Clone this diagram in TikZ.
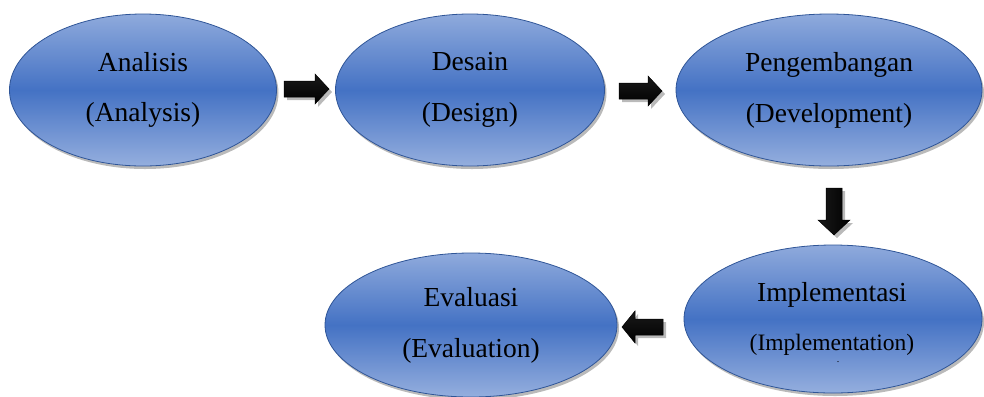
\documentclass[tikz,border=0pt]{standalone}
\usepackage{fontspec}
\setmainfont{Liberation Serif}
\usetikzlibrary{shapes.geometric,shadows}
\definecolor{elltop}{HTML}{8FAADC}
\definecolor{ellmid}{HTML}{4472C4}
\definecolor{ellrim}{HTML}{2F5597}
\tikzset{
  phase/.style={ellipse, inner sep=0pt, draw=ellrim, line width=0.8bp,
    top color=elltop, bottom color=elltop!95!white, middle color=ellmid,
    drop shadow={shadow xshift=2bp, shadow yshift=-3bp, opacity=0.45, fill=black!60},
    align=center, font=\fontsize{27.6}{51}\selectfont},
  blk/.style={draw=black, line width=0.5bp,
    drop shadow={shadow xshift=3bp, shadow yshift=-3bp, opacity=0.45, fill=black!60}},
  blkh/.style={blk, top color=black!90, middle color=black!50, bottom color=black},
  blkv/.style={blk, left color=black!90, middle color=black!50, right color=black}
}
\begin{document}
\begin{tikzpicture}[x=1bp,y=-1bp]
\useasboundingbox (0,0) rectangle (984,396);
\node[phase, minimum width=267bp, minimum height=152bp] (ana) at (143,90) {Analisis\\(Analysis)};
\node[phase, minimum width=269bp, minimum height=152bp] (des) at (470,90) {Desain\\(Design)};
\node[phase, minimum width=306bp, minimum height=152bp] (dev) at (829,90) {Pengembangan\\(Development)};
\node[phase, minimum width=298bp, minimum height=148bp, font=\fontsize{27.6}{48}\selectfont] (imp) at (833,319) {};
\node[font=\fontsize{27.6}{30}\selectfont] (impa) at (832,295) {Implementasi};
\node[font=\fontsize{23.6}{26}\selectfont] (impb) at (832,345) {(Implementation)};
\node[font=\fontsize{10}{10}\selectfont, inner sep=0pt] (impc) at (838,362) {.};
\node[phase, minimum width=292bp, minimum height=144bp] (eva) at (471,325) {Evaluasi\\(Evaluation)};
% block arrows
\path[blkh] (284,81) -- (315,81) -- (315,74) -- (329,89) -- (315,104) -- (315,97) -- (284,97) -- cycle;
\path[blkh] (619,83) -- (648,83) -- (648,76) -- (662,91) -- (648,106) -- (648,99) -- (619,99) -- cycle;
\path[blkv] (826,188) -- (842,188) -- (842,220) -- (850,220) -- (834,235) -- (818,220) -- (826,220) -- cycle;
\path[blkh] (663,319) -- (635,319) -- (635,311) -- (622,327) -- (635,343) -- (635,335) -- (663,335) -- cycle;
\end{tikzpicture}
\end{document}
